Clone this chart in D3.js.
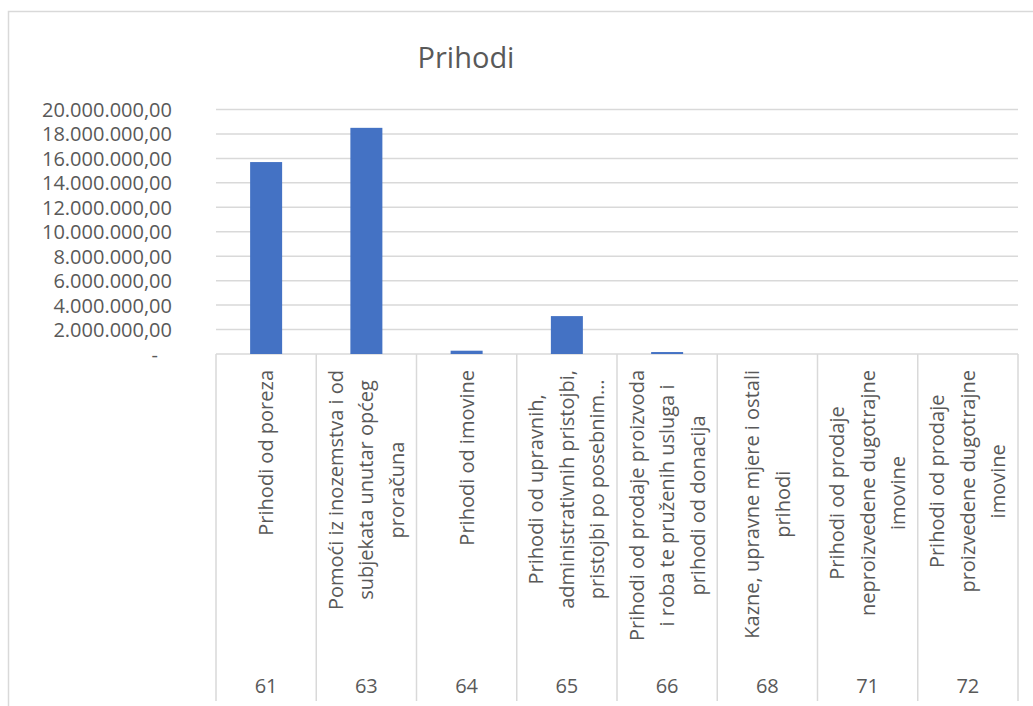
<!DOCTYPE html>
<html>
<head>
<meta charset="utf-8">
<script src="https://cdn.jsdelivr.net/npm/d3@7"></script>
<style>
  body { margin: 0; background: #fff; }
  svg { display: block; font-family: "Open Sans", sans-serif; }
</style>
</head>
<body>
<div id="chart"></div>
<script>
// codes and names of the revenue groups (names wrapped like in the original)
const codes = ["61", "63", "64", "65", "66", "68", "71", "72"];
const names = [
  "Prihodi od poreza",
  "Pomoći iz inozemstva i od\nsubjekata unutar općeg\nproračuna",
  "Prihodi od imovine",
  "Prihodi od upravnih,\nadministrativnih pristojbi,\npristojbi po posebnim…",
  "Prihodi od prodaje proizvoda\ni roba te pruženih usluga i\nprihodi od donacija",
  "Kazne, upravne mjere i ostali\nprihodi",
  "Prihodi od prodaje\nneproizvedene dugotrajne\nimovine",
  "Prihodi od prodaje\nproizvedene dugotrajne\nimovine"
];
const values = [15700000, 18500000, 270000, 3100000, 160000, 0, 0, 0];
const yTicks = [0, 2e6, 4e6, 6e6, 8e6, 10e6, 12e6, 14e6, 16e6, 18e6, 20e6];

const width = 1033, height = 706;
const plot = { left: 216, right: 1018, top: 109.5, bottom: 354 };
const gridColor = "#d9d9d9";
const textColor = "#595959";

const hr = d3.formatLocale({ decimal: ",", thousands: ".", grouping: [3], currency: ["", ""] });
const fmt = hr.format(",.2f");

const svg = d3.select("#chart").append("svg")
  .attr("width", width)
  .attr("height", height);

// chart border (only top and left are in the picture)
svg.append("rect")
  .attr("x", 8.5).attr("y", 11.5)
  .attr("width", 1100).attr("height", 800)
  .attr("fill", "none")
  .attr("stroke", gridColor)
  .attr("stroke-width", 1.5);

svg.append("text")
  .attr("x", 466).attr("y", 68)
  .attr("text-anchor", "middle")
  .style("font-size", "29px")
  .style("fill", textColor)
  .text("Prihodi");

const x = d3.scaleBand()
  .domain(codes)
  .range([plot.left, plot.right])
  .paddingInner(0)
  .paddingOuter(0);

const y = d3.scaleLinear()
  .domain([0, 20e6])
  .range([plot.bottom, plot.top]);

// gridlines
svg.append("g")
  .selectAll("line")
  .data(yTicks)
  .enter().append("line")
  .attr("x1", plot.left).attr("x2", plot.right)
  .attr("y1", d => y(d)).attr("y2", d => y(d))
  .attr("stroke", gridColor)
  .attr("stroke-width", 1.5);

// y axis labels
const yAxis = svg.append("g")
  .attr("transform", `translate(${plot.left - 44},0)`)
  .call(d3.axisLeft(y).tickValues(yTicks).tickSize(0).tickPadding(0)
    .tickFormat(d => d === 0 ? "-" : fmt(d)));
yAxis.select(".domain").remove();
yAxis.selectAll("text")
  .attr("dy", "0.35em")
  .attr("dx", d => d === 0 ? -14 : 0)
  .style("font-size", "20px")
  .style("font-family", "'Open Sans', sans-serif")
  .style("fill", textColor);

// bars
const barW = 32;
svg.append("g")
  .selectAll("rect")
  .data(values)
  .enter().append("rect")
  .attr("x", (d, i) => x(codes[i]) + x.bandwidth() / 2 - barW / 2)
  .attr("y", d => y(d))
  .attr("width", barW)
  .attr("height", d => y(0) - y(d))
  .attr("fill", "#4472c4");

// multi-level category axis: dividers
const axisBottom = 701;
svg.append("g")
  .selectAll("line")
  .data(codes.map(c => x(c)).concat([plot.right]))
  .enter().append("line")
  .attr("x1", d => d).attr("x2", d => d)
  .attr("y1", plot.bottom).attr("y2", axisBottom)
  .attr("stroke", gridColor)
  .attr("stroke-width", 1.5);

// rotated names
const labelTop = 370;
const lineGap = 30.5;
names.forEach(function(name, i) {
  const lines = name.split("\n");
  const g = svg.append("g")
    .attr("transform", `translate(${x(codes[i]) + x.bandwidth() / 2},${labelTop}) rotate(-90)`);
  const texts = g.selectAll("text")
    .data(lines)
    .enter().append("text")
    .attr("y", (d, k) => (k - (lines.length - 1) / 2) * lineGap)
    .attr("dy", "0.35em")
    .attr("text-anchor", "middle")
    .style("font-size", "20px")
    .style("fill", textColor)
    .text(d => d);
  let longest = 0;
  texts.each(function() { longest = Math.max(longest, this.getComputedTextLength()); });
  texts.attr("x", -longest / 2);
});

// codes row
svg.append("g")
  .selectAll("text")
  .data(codes)
  .enter().append("text")
  .attr("x", d => x(d) + x.bandwidth() / 2)
  .attr("y", 693)
  .attr("text-anchor", "middle")
  .style("font-size", "20px")
  .style("fill", textColor)
  .text(d => d);
</script>
</body>
</html>
